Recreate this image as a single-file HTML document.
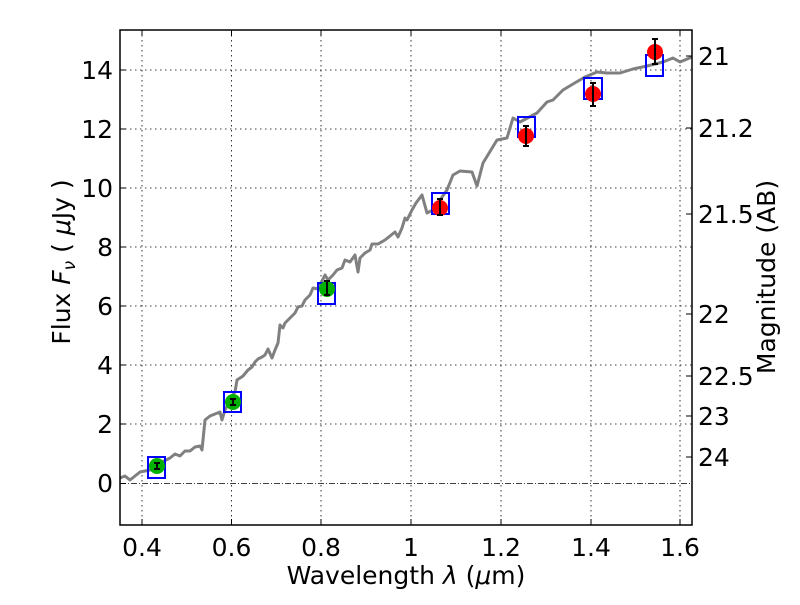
<!DOCTYPE html>
<html><head><meta charset="utf-8"><style>
body{margin:0;background:#fff}
text{font-family:"DejaVu Sans","Liberation Sans",sans-serif;fill:#000}
</style></head><body>
<svg width="800" height="600" xmlns="http://www.w3.org/2000/svg">
<rect width="800" height="600" fill="#fff"/>
<g stroke="#000" stroke-width="0.8" stroke-dasharray="1.5,3.5">
<line x1="142" y1="30" x2="142" y2="525"/><line x1="231.5" y1="30" x2="231.5" y2="525"/>
<line x1="321" y1="30" x2="321" y2="525"/><line x1="411" y1="30" x2="411" y2="525"/>
<line x1="501" y1="30" x2="501" y2="525"/><line x1="591" y1="30" x2="591" y2="525"/>
<line x1="680" y1="30" x2="680" y2="525"/>
<line x1="120" y1="70" x2="692" y2="70"/><line x1="120" y1="129" x2="692" y2="129"/>
<line x1="120" y1="188" x2="692" y2="188"/><line x1="120" y1="247" x2="692" y2="247"/>
<line x1="120" y1="306" x2="692" y2="306"/><line x1="120" y1="365" x2="692" y2="365"/>
<line x1="120" y1="424" x2="692" y2="424"/>
</g>
<line x1="120" y1="483.5" x2="692" y2="483.5" stroke="#000" stroke-width="0.8" stroke-dasharray="6,2,1,2"/>
<polyline fill="none" stroke="#808080" stroke-width="3" stroke-linejoin="round" points="120,478 125,476 130,480 135,476 140,472 150,470 160,463 170,458 175,454 180,456 185,451 190,451 195,447 200,446 202,450 205,420 210,416 215,414 220,412 222,420 225,410 232,396 235,392 237,380 243,376 248,370 252,367 255,362 258,359 262,357 265,355 268,349 272,358 275,350 278,343 280,325 283,328 285,323 290,318 295,313 298,307 302,306 305,300 310,295 313,288 318,289 320,285 325,275 328,280 333,275 337,270 342,268 345,260 350,262 355,255 358,272 360,258 365,253 370,250 372,244 378,244 385,240 390,236 395,232 398,237 402,228 405,218 407,220 412,210 416,203 422,195 427,213 433,210 440,200 447,190 453,175 460,171 472,172 477,186 483,163 497,140 507,138 513,118 520,122 537,113 547,102 553,100 563,90 573,84 585,77 597,72 607,73 620,73 633,69 647,66 663,62 673,58 680,62 692,57"/>
<g fill="none" stroke="#0000ff" stroke-width="2">
<rect x="148" y="457" width="17" height="21"/><rect x="224" y="392" width="17" height="20"/>
<rect x="318" y="283" width="17" height="21"/><rect x="432" y="193" width="17" height="21"/>
<rect x="518" y="117" width="17" height="20"/><rect x="584" y="78" width="18" height="21"/>
<rect x="646" y="55" width="17" height="21"/>
</g>
<g fill="#00b000"><circle cx="157" cy="466" r="8"/><circle cx="233" cy="402" r="8"/><circle cx="327" cy="289" r="8"/></g>
<g fill="#ff0000"><circle cx="440" cy="208" r="8"/><circle cx="526" cy="136" r="8"/><circle cx="593" cy="94" r="8"/><circle cx="655" cy="52" r="8"/></g>
<g stroke="#000" stroke-width="2">
<line x1="157" y1="463" x2="157" y2="469"/><line x1="154" y1="463" x2="160" y2="463"/><line x1="154" y1="469" x2="160" y2="469"/>
<line x1="233" y1="399" x2="233" y2="405"/><line x1="230" y1="399" x2="236" y2="399"/><line x1="230" y1="405" x2="236" y2="405"/>
<line x1="327" y1="281" x2="327" y2="295"/><line x1="324" y1="281" x2="330" y2="281"/><line x1="324" y1="295" x2="330" y2="295"/>
<line x1="440" y1="199" x2="440" y2="215"/><line x1="437" y1="199" x2="443" y2="199"/><line x1="437" y1="215" x2="443" y2="215"/>
<line x1="526" y1="126" x2="526" y2="146"/><line x1="523" y1="126" x2="529" y2="126"/><line x1="523" y1="146" x2="529" y2="146"/>
<line x1="593" y1="83" x2="593" y2="106"/><line x1="590" y1="83" x2="596" y2="83"/><line x1="590" y1="106" x2="596" y2="106"/>
<line x1="655" y1="39" x2="655" y2="64"/><line x1="652" y1="39" x2="658" y2="39"/><line x1="652" y1="64" x2="658" y2="64"/>
</g>
<rect x="120" y="30" width="572" height="495" fill="none" stroke="#000" stroke-width="1.5"/>
<g stroke="#000" stroke-width="1">
<line x1="142" y1="525" x2="142" y2="519"/><line x1="231.5" y1="525" x2="231.5" y2="519"/><line x1="321" y1="525" x2="321" y2="519"/><line x1="411" y1="525" x2="411" y2="519"/><line x1="501" y1="525" x2="501" y2="519"/><line x1="591" y1="525" x2="591" y2="519"/><line x1="680" y1="525" x2="680" y2="519"/>
<line x1="142" y1="30" x2="142" y2="36"/><line x1="231.5" y1="30" x2="231.5" y2="36"/><line x1="321" y1="30" x2="321" y2="36"/><line x1="411" y1="30" x2="411" y2="36"/><line x1="501" y1="30" x2="501" y2="36"/><line x1="591" y1="30" x2="591" y2="36"/><line x1="680" y1="30" x2="680" y2="36"/>
<line x1="120" y1="70" x2="126" y2="70"/><line x1="120" y1="129" x2="126" y2="129"/><line x1="120" y1="188" x2="126" y2="188"/><line x1="120" y1="247" x2="126" y2="247"/><line x1="120" y1="306" x2="126" y2="306"/><line x1="120" y1="365" x2="126" y2="365"/><line x1="120" y1="424" x2="126" y2="424"/><line x1="120" y1="483.5" x2="126" y2="483.5"/>
<line x1="692" y1="56" x2="686" y2="56"/><line x1="692" y1="128" x2="686" y2="128"/><line x1="692" y1="214" x2="686" y2="214"/><line x1="692" y1="314" x2="686" y2="314"/><line x1="692" y1="376" x2="686" y2="376"/><line x1="692" y1="416" x2="686" y2="416"/><line x1="692" y1="457" x2="686" y2="457"/>
</g>
<g font-size="25" text-anchor="middle">
<text x="142" y="556">0.4</text><text x="231.5" y="556">0.6</text><text x="321" y="556">0.8</text><text x="411" y="556">1</text><text x="501" y="556">1.2</text><text x="591" y="556">1.4</text><text x="680" y="556">1.6</text>
</g>
<g font-size="25" text-anchor="end">
<text x="113" y="79">14</text><text x="113" y="138">12</text><text x="113" y="197">10</text><text x="113" y="256">8</text><text x="113" y="315">6</text><text x="113" y="374">4</text><text x="113" y="433">2</text><text x="113" y="492">0</text>
</g>
<g font-size="25">
<text x="698" y="65">21</text><text x="698" y="137">21.2</text><text x="698" y="223">21.5</text><text x="698" y="323">22</text><text x="698" y="385">22.5</text><text x="698" y="425">23</text><text x="698" y="466">24</text>
</g>
<text x="406" y="584" font-size="25" text-anchor="middle">Wavelength  <tspan font-style="italic">λ</tspan> (<tspan font-style="italic">μ</tspan>m)</text>
<text transform="translate(70,262) rotate(-90)" font-size="25" text-anchor="middle">Flux  <tspan font-style="italic">F</tspan><tspan font-style="italic" font-size="17" dy="5">ν</tspan><tspan dy="-5">  (  </tspan><tspan font-style="italic">μ</tspan>Jy )</text>
<text transform="translate(775,277) rotate(-90)" font-size="25" text-anchor="middle">Magnitude (AB)</text>
</svg>
</body></html>
